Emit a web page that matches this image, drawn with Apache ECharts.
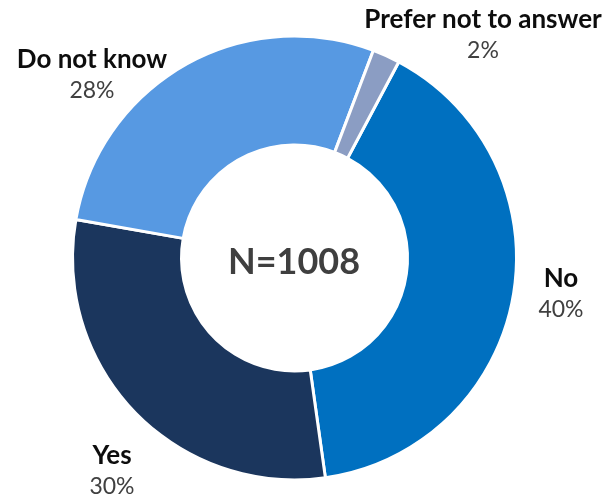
<!DOCTYPE html>
<html>
<head>
<meta charset="utf-8">
<script src="https://cdn.jsdelivr.net/npm/echarts@6/dist/echarts.min.js"></script>
<style>
  html, body { margin: 0; padding: 0; background: #ffffff; }
  #chart { width: 611px; height: 497px; }
</style>
</head>
<body>
<div id="chart"></div>
<script>
// Survey answers, listed clockwise from the top-right
const categories = ['No', 'Yes', 'Do not know', 'Prefer not to answer'];
const shares = [40, 30, 28, 2];
const sampleLabel = 'N=1008';

const sliceColors = ['#0070c0', '#1b365d', '#5799e2', '#8b9dc3'];

// Where each category's caption sits (px, centre of the two-line block)
const captionSpots = [
  [561, 294],
  [112, 471],
  [92, 75],
  [483, 35]
];

const chart = echarts.init(document.getElementById('chart'));

chart.setOption({
  animation: false,
  backgroundColor: '#ffffff',
  graphic: [{
    type: 'text',
    style: {
      text: sampleLabel,
      x: 294, y: 262,
      textAlign: 'center',
      textVerticalAlign: 'middle',
      font: 'bold 36px Lato',
      fill: '#3f3f3f'
    }
  }],
  series: [{
    type: 'pie',
    center: [294.5, 258],
    radius: [113, 222],
    startAngle: 62,
    clockwise: true,
    avoidLabelOverlap: false,
    itemStyle: { borderColor: '#ffffff', borderWidth: 3 },
    label: {
      show: true,
      position: 'outside',
      formatter: p => '{n|' + p.name + '}\n{v|' + p.value + '%}',
      rich: {
        n: { fontFamily: 'Lato', fontWeight: 'bold', fontSize: 26, color: '#0d0d0d', lineHeight: 31, align: 'center' },
        v: { fontFamily: 'Lato', fontSize: 23, color: '#404040', lineHeight: 31, align: 'center' }
      }
    },
    labelLine: { show: false },
    labelLayout: function (params) {
      const spot = captionSpots[params.dataIndex];
      return { x: spot[0], y: spot[1], align: 'center', verticalAlign: 'middle' };
    },
    emphasis: { disabled: true },
    data: categories.map((c, i) => ({
      name: c,
      value: shares[i],
      itemStyle: { color: sliceColors[i] }
    }))
  }]
});
</script>
</body>
</html>
